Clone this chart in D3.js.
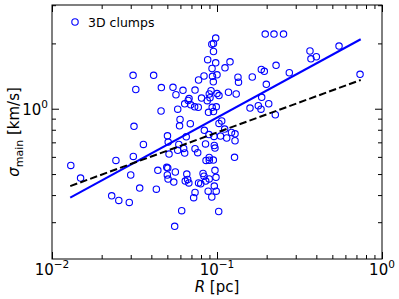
<!DOCTYPE html>
<html>
<head>
<meta charset="utf-8">
<script src="https://cdn.jsdelivr.net/npm/d3@7"></script>
<style>
  body { margin: 0; background: #fff; }
  svg { display: block; font-family: "DejaVu Sans", sans-serif; }
</style>
</head>
<body>
<svg id="chart" width="399" height="299"></svg>
<script>
// clump radius R [pc] and sigma_main [km/s]
var radius = [
  0.0130, 0.0149, 0.0230, 0.0254, 0.0294, 0.0244, 0.0311, 0.0300, 0.0340, 0.0358,
  0.0314, 0.0310, 0.0322, 0.0413, 0.0460, 0.0541, 0.0622, 0.0736, 0.0773, 0.0564,
  0.0677, 0.0669, 0.0637, 0.0693, 0.0732, 0.0770, 0.0578, 0.0458, 0.0597, 0.0593,
  0.0689, 0.0501, 0.0506, 0.0651, 0.0587, 0.0578, 0.0512, 0.0628, 0.0637, 0.0736,
  0.0764, 0.0438, 0.0496, 0.0503, 0.0559, 0.0500, 0.0505, 0.0547, 0.0656, 0.0664,
  0.0642, 0.0675, 0.0429, 0.0736, 0.0722, 0.0611, 0.0554, 0.0773,
  0.0982, 0.0952, 0.0930, 0.0952, 0.0878, 0.1199, 0.0982, 0.1118, 0.0933, 0.0834,
  0.0939, 0.1000, 0.134, 0.135, 0.0950, 0.0920, 0.1000, 0.0898, 0.1028, 0.1174,
  0.1307, 0.0806, 0.0907, 0.0873, 0.0935, 0.0990, 0.0888, 0.0952, 0.1068, 0.1028,
  0.0838, 0.0894, 0.0959, 0.1050, 0.1113, 0.1145, 0.1224, 0.1286, 0.1286, 0.0852,
  0.0963, 0.0972, 0.0897, 0.0858, 0.0898, 0.0950, 0.1277, 0.0972, 0.0823, 0.0834,
  0.0986, 0.0897, 0.0797, 0.0854, 0.0963, 0.0884, 0.0989, 0.0930, 0.1024,
  0.196, 0.2215, 0.253, 0.549, 0.366, 0.371, 0.400, 0.228, 0.1856, 0.1935,
  0.1636, 0.2743, 0.199, 0.736, 0.1866, 0.2058, 0.178, 0.1848, 0.1585, 0.2256
];
var sigma = [
  0.548, 0.479, 0.397, 0.378, 0.370, 0.578, 0.603, 0.495, 0.431, 0.685,
  0.830, 1.425, 1.226, 1.425, 1.252, 1.255, 1.215, 1.219, 1.356, 1.160,
  1.114, 1.091, 1.053, 1.042, 1.020, 1.016, 0.995, 0.976, 0.892, 0.834,
  0.853, 0.750, 0.702, 0.742, 0.685, 0.643, 0.618, 0.656, 0.625, 0.654,
  0.627, 0.520, 0.537, 0.533, 0.511, 0.495, 0.474, 0.459, 0.500, 0.472,
  0.464, 0.455, 0.426, 0.411, 0.389, 0.339, 0.287, 0.455,
  2.117, 1.998, 1.983, 1.835, 1.682, 1.645, 1.627, 1.543, 1.532, 1.415,
  1.410, 1.433, 1.397, 1.325, 1.330, 1.210, 1.175, 1.169, 1.150, 1.191,
  1.169, 1.120, 1.124, 1.089, 1.015, 1.020, 0.963, 0.971, 0.878, 0.856,
  0.795, 0.760, 0.745, 0.748, 0.806, 0.733, 0.777, 0.766, 0.712, 0.688,
  0.677, 0.659, 0.596, 0.578, 0.579, 0.580, 0.597, 0.520, 0.503, 0.489,
  0.483, 0.475, 0.451, 0.464, 0.440, 0.417, 0.417, 0.392, 0.336,
  2.209, 2.209, 2.209, 1.945, 1.845, 1.698, 1.736, 1.585, 1.516, 1.487,
  1.400, 1.465, 1.296, 1.440, 1.128, 1.054, 1.032, 0.995, 1.007, 0.938
];

// power-law fits (end points)
var fitR = [0.0129, 0.743];
var fitBlue = [0.389, 2.09];
var fitBlack = [0.44, 1.356];

var xMajor = [0.01, 0.1, 1];
var xLabels = ["\u22122", "\u22121", "0"];
var xMinor = [0.02, 0.03, 0.04, 0.05, 0.06, 0.07, 0.08, 0.09,
              0.2, 0.3, 0.4, 0.5, 0.6, 0.7, 0.8, 0.9];
var yMajor = [1];
var yLabels = ["0"];
var yMinor = [0.3, 0.4, 0.5, 0.6, 0.7, 0.8, 0.9, 2, 3];

(function () {
    var svg = d3.select("#chart");
    var pl = 52, pr = 382, pt = 5, pb = 259;

    var x = d3.scaleLog().domain([0.01, 1]).range([pl, pr]);
    var y = d3.scaleLog().domain([0.203, 3.006]).range([pb, pt]);

    function addAxis(axis, tx, ty, vals, size) {
        var g = svg.append("g")
            .attr("transform", "translate(" + tx + "," + ty + ")")
            .call(axis.tickValues(vals).tickSize(size).tickFormat(""));
        g.select(".domain").remove();
        g.selectAll(".tick line").attr("stroke", "#000").attr("stroke-width", 1);
    }

    [[xMajor, -7], [xMinor, -4]].forEach(function (t) {
        addAxis(d3.axisBottom(x), 0, pb, t[0], t[1]);
        addAxis(d3.axisTop(x), 0, pt, t[0], t[1]);
    });
    [[yMajor, -7], [yMinor, -4]].forEach(function (t) {
        addAxis(d3.axisLeft(y), pl, 0, t[0], t[1]);
        addAxis(d3.axisRight(y), pr, 0, t[0], t[1]);
    });

    svg.append("rect")
        .attr("x", pl).attr("y", pt)
        .attr("width", pr - pl).attr("height", pb - pt)
        .attr("fill", "none").attr("stroke", "#000").attr("stroke-width", 1);

    // tick labels as 10^n
    xMajor.forEach(function (v, i) {
        var t = svg.append("text")
            .attr("x", x(v)).attr("y", 275)
            .attr("text-anchor", "middle")
            .attr("font-size", 15);
        t.append("tspan").text("10");
        t.append("tspan").attr("dy", -7).attr("font-size", 10.5).text(xLabels[i]);
    });
    yMajor.forEach(function (v, i) {
        var t = svg.append("text")
            .attr("x", pl - 4).attr("y", y(v) + 6)
            .attr("text-anchor", "end")
            .attr("font-size", 15);
        t.append("tspan").text("10");
        t.append("tspan").attr("dy", -7).attr("font-size", 10.5).text(yLabels[i]);
    });

    // axis labels
    var xl = svg.append("text")
        .attr("x", (pl + pr) / 2).attr("y", 292)
        .attr("text-anchor", "middle").attr("font-size", 15);
    xl.append("tspan").attr("font-style", "italic").text("R");
    xl.append("tspan").text(" [pc]");

    var yl = svg.append("text")
        .attr("transform", "translate(19," + ((pt + pb) / 2) + ") rotate(-90)")
        .attr("text-anchor", "middle").attr("font-size", 15);
    yl.append("tspan").attr("font-style", "italic").text("\u03c3");
    yl.append("tspan").attr("font-size", 11).attr("dy", 4).text("main");
    yl.append("tspan").attr("dy", -4).text(" [km/s]");

    // data points
    var pts = radius.map(function (r, i) { return [r, sigma[i]]; });
    svg.append("g").selectAll("circle")
        .data(pts)
        .enter().append("circle")
        .attr("cx", function (d) { return x(d[0]); })
        .attr("cy", function (d) { return y(d[1]); })
        .attr("r", 3.2)
        .attr("fill", "none")
        .attr("stroke", "#0000ff")
        .attr("stroke-width", 1.1);

    // fit lines
    var line = d3.line()
        .x(function (d) { return x(d[0]); })
        .y(function (d) { return y(d[1]); });

    svg.append("path")
        .datum(fitR.map(function (r, i) { return [r, fitBlue[i]]; }))
        .attr("d", line)
        .attr("fill", "none").attr("stroke", "#0000ff").attr("stroke-width", 2);

    svg.append("path")
        .datum(fitR.map(function (r, i) { return [r, fitBlack[i]]; }))
        .attr("d", line)
        .attr("fill", "none").attr("stroke", "#000").attr("stroke-width", 2)
        .attr("stroke-dasharray", "7.4,3.2");

    // legend
    svg.append("circle")
        .attr("cx", 75).attr("cy", 22).attr("r", 3.2)
        .attr("fill", "none").attr("stroke", "#0000ff").attr("stroke-width", 1.1);
    svg.append("text")
        .attr("x", 88).attr("y", 26.5)
        .attr("font-size", 12.5)
        .text("3D clumps");
})();
</script>
</body>
</html>
